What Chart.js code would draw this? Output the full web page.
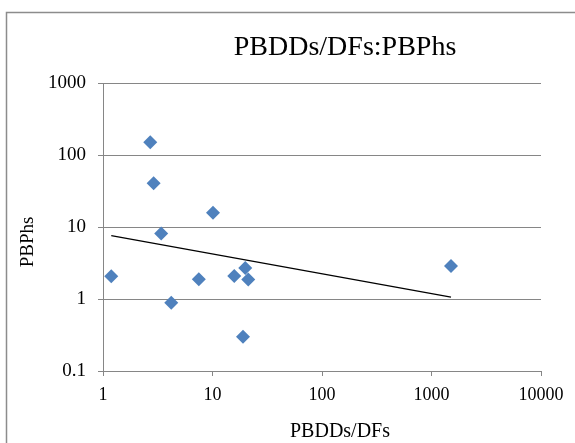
<!DOCTYPE html>
<html>
<head>
<meta charset="utf-8">
<script src="https://cdn.jsdelivr.net/npm/chart.js@4/dist/chart.umd.min.js"></script>
<style>
  html, body { margin: 0; padding: 0; background: #fff; }
  #wrap { width: 575px; height: 443px; }
</style>
</head>
<body>
<div id="wrap"><canvas id="chart" width="575" height="443"></canvas></div>
<script>
// ---- data ----
const chartTitle = "PBDDs/DFs:PBPhs";
const xTitle = "PBDDs/DFs";
const yTitle = "PBPhs";

const pbdd = [1.19, 2.7, 2.9, 3.4, 10.1, 4.2, 7.5, 15.8, 19.9, 21.2, 19.0, 1507];
const pbph = [2.07, 150, 40.4, 8.1, 15.8, 0.89, 1.88, 2.09, 2.7, 1.86, 0.30, 2.87];

// trend line end points
const trendX = [1.19, 1507];
const trendY = [7.6, 1.06];

const xTicks = [1, 10, 100, 1000, 10000];
const yTicks = [0.1, 1, 10, 100, 1000];

const SERIF = "'Liberation Serif', 'Times New Roman', serif";
const GRID = "#868686";

// frame + titles drawn at Excel-like spots
const decor = {
    id: "decor",
    beforeDraw(chart) {
        const ctx = chart.ctx;
        ctx.save();
        ctx.strokeStyle = "#8c8c8c";
        ctx.lineWidth = 1.5;
        ctx.strokeRect(6.5, 12.5, 700, 600);
        ctx.restore();
    },
    afterDraw(chart) {
        const ctx = chart.ctx;
        ctx.save();
        ctx.fillStyle = "#000";
        ctx.textAlign = "center";
        ctx.textBaseline = "alphabetic";

        ctx.font = "28px " + SERIF;
        ctx.fillText(chartTitle, 345, 55);

        ctx.font = "20px " + SERIF;
        ctx.fillText(xTitle, 340, 437);

        ctx.font = "19px " + SERIF;
        ctx.translate(33, 242);
        ctx.rotate(-Math.PI / 2);
        ctx.fillText(yTitle, 0, 0);
        ctx.restore();
    }
};

new Chart(document.getElementById("chart"), {
    type: "scatter",
    data: {
        datasets: [
            {
                label: "PBPhs",
                data: pbdd.map((x, i) => ({ x: x, y: pbph[i] })),
                pointStyle: "rectRot",
                pointRadius: 7,
                pointHoverRadius: 7,
                backgroundColor: "#4F81BD",
                borderColor: "#4F81BD",
                borderWidth: 0
            },
            {
                label: "trend",
                data: trendX.map((x, i) => ({ x: x, y: trendY[i] })),
                showLine: true,
                pointRadius: 0,
                borderColor: "#000",
                borderWidth: 1.2
            }
        ]
    },
    options: {
        responsive: false,
        animation: false,
        layout: { padding: { left: 0, right: 34, top: 83, bottom: 0 } },
        plugins: {
            legend: { display: false },
            title: { display: false },
            tooltip: { enabled: false }
        },
        scales: {
            x: {
                type: "logarithmic",
                min: 1,
                max: 10000,
                afterBuildTicks: s => { s.ticks = xTicks.map(v => ({ value: v })); },
                afterFit: s => { s.height = 72; },
                grid: { drawOnChartArea: false, color: GRID, tickLength: 5 },
                border: { color: GRID },
                ticks: {
                    color: "#000",
                    padding: 8,
                    maxRotation: 0,
                    font: { family: SERIF, size: 18 },
                    callback: v => String(v)
                }
            },
            y: {
                type: "logarithmic",
                min: 0.1,
                max: 1000,
                afterBuildTicks: s => { s.ticks = yTicks.map(v => ({ value: v })); },
                afterFit: s => { s.width = 103; },
                grid: { color: GRID, tickLength: 5 },
                border: { color: GRID },
                ticks: {
                    color: "#000",
                    padding: 12,
                    font: { family: SERIF, size: 19 },
                    callback: v => String(v)
                }
            }
        }
    },
    plugins: [decor]
});
</script>
</body>
</html>
